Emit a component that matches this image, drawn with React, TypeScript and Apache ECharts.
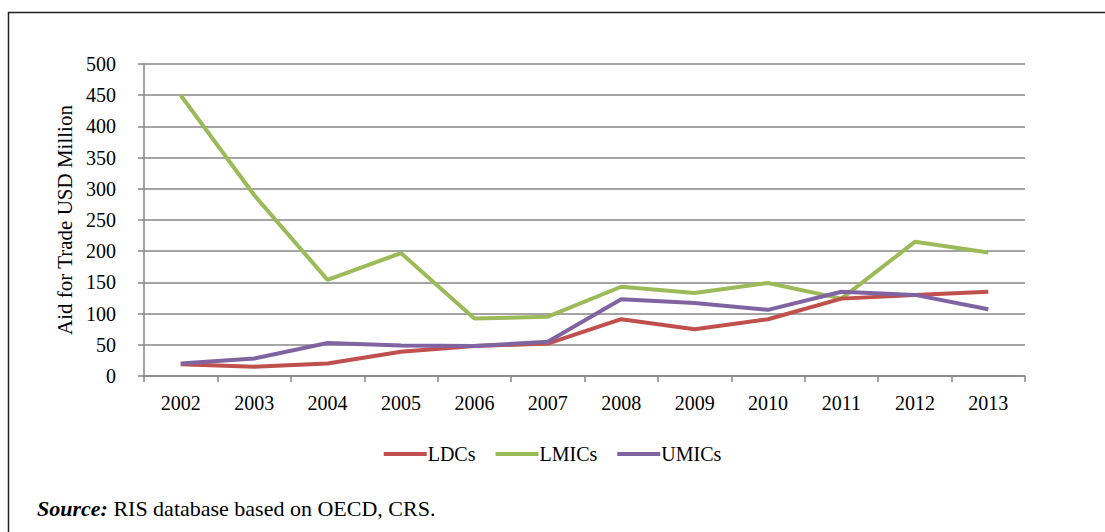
import React, { useEffect, useRef } from "react";
import * as echarts from "echarts";

const years = ["2002", "2003", "2004", "2005", "2006", "2007", "2008", "2009", "2010", "2011", "2012", "2013"];
const ldcs = [19, 15, 20, 39, 48, 52, 91, 75, 91, 124, 130, 135];
const lmics = [450, 290, 154, 197, 92, 95, 143, 133, 149, 124, 215, 198];
const umics = [20, 28, 53, 49, 48, 55, 123, 117, 106, 135, 130, 107];
const yTicks = { min: 0, max: 500, interval: 50 };

const FONT = "'Liberation Serif', 'DejaVu Serif', serif";

export default function App() {
  const ref = useRef<HTMLDivElement>(null);
  useEffect(() => {
    if (!ref.current) return;
    const chart = echarts.init(ref.current, null, { renderer: "svg" });
    const lineStyle = (c: string) => ({ color: c, width: 4 });
    chart.setOption({
      animation: false,
      backgroundColor: "#fff",
      textStyle: { fontFamily: FONT },
      grid: { left: 144, right: 80, top: 64, bottom: 156, containLabel: false },
      legend: {
        bottom: 63,
        left: "center",
        icon: "rect",
        itemWidth: 43,
        itemHeight: 4,
        itemGap: 20,
        textStyle: { fontFamily: FONT, fontSize: 20, color: "#000", padding: [0, 0, 0, -4] },
        data: ["LDCs", "LMICs", "UMICs"],
      },
      xAxis: {
        type: "category",
        data: years,
        boundaryGap: true,
        axisLine: { lineStyle: { color: "#868686", width: 1.5 } },
        axisTick: { show: true, length: 6, lineStyle: { color: "#868686", width: 1.5 } },
        axisLabel: { color: "#000", fontSize: 20, fontFamily: FONT, margin: 17 },
        splitLine: { show: false },
      },
      yAxis: {
        type: "value",
        min: yTicks.min,
        max: yTicks.max,
        interval: yTicks.interval,
        name: "Aid for Trade USD Million",
        nameLocation: "middle",
        nameGap: 60,
        nameTextStyle: { color: "#000", fontSize: 21, fontFamily: FONT },
        axisLine: { show: true, lineStyle: { color: "#868686", width: 1.5 } },
        axisTick: { show: true, length: 6, lineStyle: { color: "#868686", width: 1.5 } },
        axisLabel: { color: "#000", fontSize: 20, fontFamily: FONT, margin: 28 },
        splitLine: { show: true, lineStyle: { color: "#868686", width: 1.5 } },
      },
      series: [
        { name: "LDCs", type: "line", data: ldcs, showSymbol: false, symbol: "none", color: "#C0504D", lineStyle: lineStyle("#C0504D"), z: 3 },
        { name: "LMICs", type: "line", data: lmics, showSymbol: false, symbol: "none", color: "#9BBB59", lineStyle: lineStyle("#9BBB59"), z: 2 },
        { name: "UMICs", type: "line", data: umics, showSymbol: false, symbol: "none", color: "#8064A2", lineStyle: lineStyle("#8064A2"), z: 4 },
      ],
      graphic: [
        {
          type: "rect",
          shape: { x: 8.5, y: 12.5, width: 1200, height: 600 },
          style: { fill: "none", stroke: "#222", lineWidth: 1.5 },
          silent: true,
        },
        {
          type: "text",
          left: 37,
          top: 497,
          style: {
            text: "{b|Source:} RIS database based on OECD, CRS.",
            font: `22px ${FONT}`,
            fill: "#000",
            rich: {
              b: { fontWeight: "bold", fontStyle: "italic", fontSize: 22, fontFamily: FONT, fill: "#000" },
            },
          },
        },
      ],
    });
    return () => chart.dispose();
  }, []);
  return <div ref={ref} style={{ position: "fixed", left: 0, top: 0, width: 1105, height: 532 }} />;
}
